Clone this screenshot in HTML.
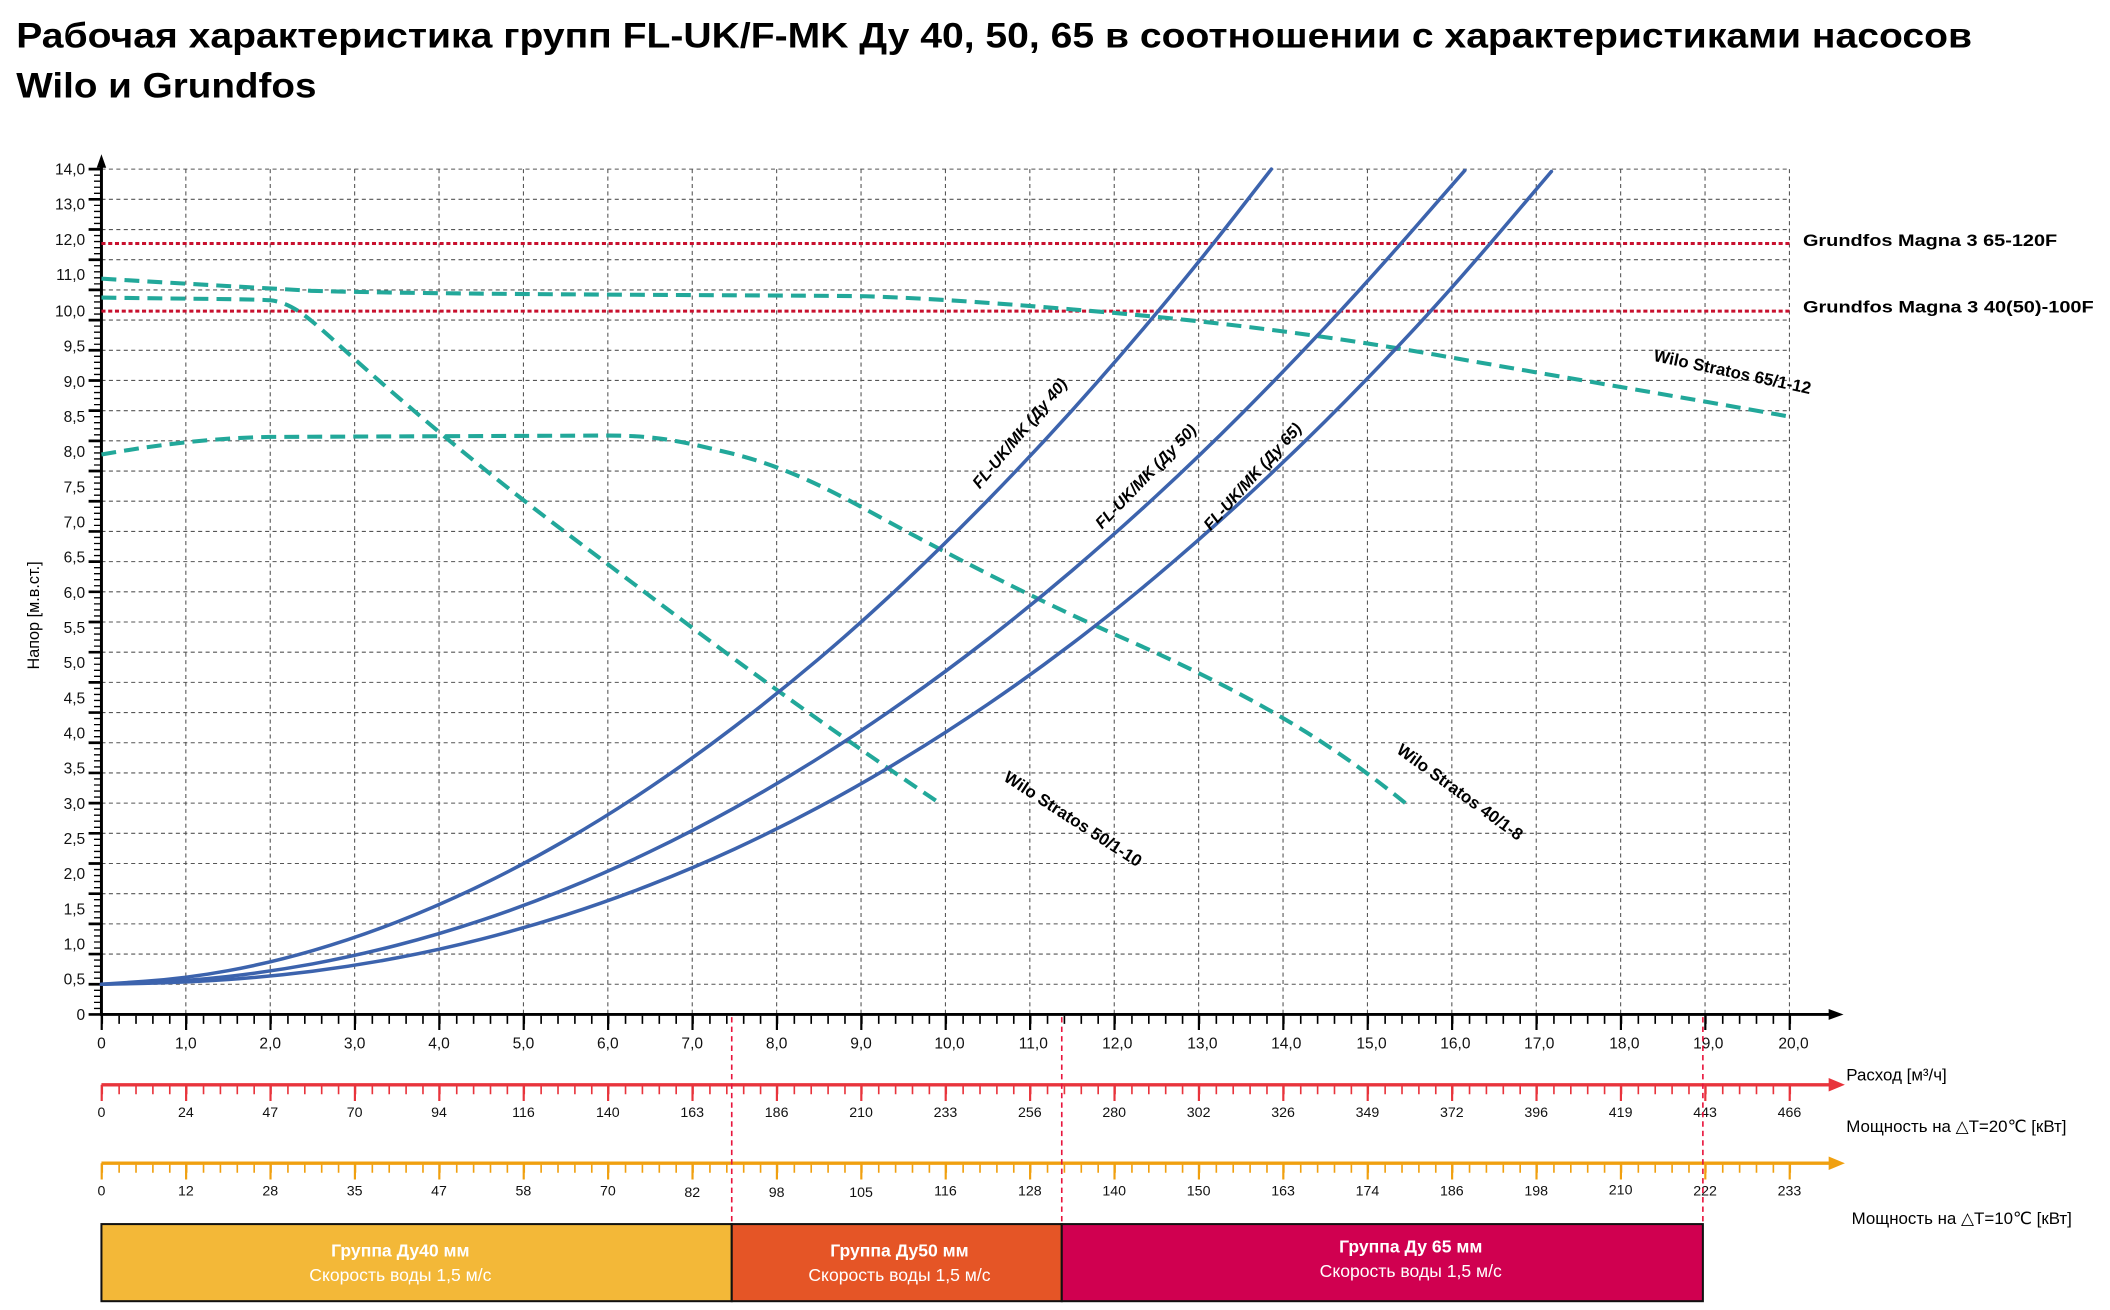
<!DOCTYPE html>
<html><head><meta charset="utf-8"><style>
html,body{margin:0;padding:0;background:#fff;}
svg{display:block;}
text{font-family:"Liberation Sans","DejaVu Sans",sans-serif;}
</style></head><body>
<svg width="2110" height="1310" viewBox="0 0 1560 968.5" xmlns="http://www.w3.org/2000/svg">
<rect width="1560" height="968.5" fill="#fff"/>
<text x="12" y="35" font-size="26" font-weight="bold" textLength="1446" lengthAdjust="spacingAndGlyphs">Рабочая характеристика групп FL-UK/F-MK Ду 40, 50, 65  в соотношении с характеристиками насосов</text>
<text x="12" y="72" font-size="26" font-weight="bold" textLength="222" lengthAdjust="spacingAndGlyphs">Wilo и Grundfos</text>

<!-- grid -->
<g stroke="#555" stroke-width="0.8" stroke-dasharray="3 2.5" fill="none">
<path d="M137.4 125V750M199.8 125V750M262.2 125V750M324.6 125V750M387 125V750M449.4 125V750M511.8 125V750M574.2 125V750M636.6 125V750M699 125V750M761.4 125V750M823.8 125V750M886.2 125V750M948.6 125V750M1011 125V750M1073.4 125V750M1135.8 125V750M1198.2 125V750M1260.6 125V750M1323 125V750"/>
<path d="M75 727.68H1323M75 705.36H1323M75 683.04H1323M75 660.72H1323M75 638.4H1323M75 616.08H1323M75 593.76H1323M75 571.44H1323M75 549.12H1323M75 526.8H1323M75 504.48H1323M75 482.16H1323M75 459.84H1323M75 437.52H1323M75 415.2H1323M75 392.88H1323M75 370.56H1323M75 348.24H1323M75 325.92H1323M75 303.6H1323M75 281.28H1323M75 258.96H1323M75 236.64H1323M75 214.32H1323M75 192H1323M75 169.68H1323M75 147.36H1323M75 125.04H1323"/>
</g>

<!-- y axis ticks -->
<line x1="72" y1="750.5" x2="72" y2="124" stroke="#000" stroke-width="5" stroke-dasharray="1 3.464"/>
<line x1="70" y1="751" x2="70" y2="124" stroke="#000" stroke-width="9" stroke-dasharray="2 20.32"/>
<!-- x axis ticks -->
<line x1="75" y1="754" x2="1330" y2="754" stroke="#000" stroke-width="6" stroke-dasharray="1.2 11.28"/>
<line x1="74.4" y1="756" x2="1330" y2="756" stroke="#000" stroke-width="11" stroke-dasharray="1.6 60.8"/>
<!-- axes -->
<line x1="75" y1="751" x2="75" y2="120" stroke="#000" stroke-width="2.2"/>
<path d="M75 114 L71.5 124 L78.5 124Z" fill="#000"/>
<line x1="74" y1="750" x2="1355" y2="750" stroke="#000" stroke-width="2.2"/>
<path d="M1363 750 L1352 746 L1352 754Z" fill="#000"/>

<!-- y labels -->
<g font-size="11.5" text-anchor="end" fill="#111">
<text x="63" y="129">14,0</text><text x="63" y="155">13,0</text><text x="63" y="181">12,0</text><text x="63" y="207">11,0</text><text x="63" y="234">10,0</text>
<text x="63" y="260">9,5</text><text x="63" y="286">9,0</text><text x="63" y="338">8,0</text><text x="63" y="312">8,5</text>
<text x="63" y="364">7,5</text><text x="63" y="390">7,0</text><text x="63" y="416">6,5</text><text x="63" y="442">6,0</text>
<text x="63" y="468">5,5</text><text x="63" y="494">5,0</text><text x="63" y="520">4,5</text><text x="63" y="546">4,0</text>
<text x="63" y="572">3,5</text><text x="63" y="598">3,0</text><text x="63" y="624">2,5</text><text x="63" y="650">2,0</text>
<text x="63" y="676">1,5</text><text x="63" y="702">1,0</text><text x="63" y="728">0,5</text><text x="63" y="754">0</text>
</g>
<text transform="translate(29 455) rotate(-90)" font-size="12" text-anchor="middle">Напор [м.в.ст.]</text>

<!-- x labels -->
<g font-size="11.5" text-anchor="middle" fill="#111">
<text x="75" y="775">0</text><text x="137.4" y="775">1,0</text><text x="199.8" y="775">2,0</text><text x="262.2" y="775">3,0</text><text x="324.6" y="775">4,0</text><text x="387" y="775">5,0</text><text x="449.4" y="775">6,0</text><text x="511.8" y="775">7,0</text><text x="574.2" y="775">8,0</text><text x="636.6" y="775">9,0</text><text x="702" y="775">10,0</text><text x="764" y="775">11,0</text><text x="826" y="775">12,0</text><text x="889" y="775">13,0</text><text x="951" y="775">14,0</text><text x="1014" y="775">15,0</text><text x="1076" y="775">16,0</text><text x="1138" y="775">17,0</text><text x="1201" y="775">18,0</text><text x="1263" y="775">19,0</text><text x="1326" y="775">20,0</text>
</g>

<!-- red dotted lines -->
<g stroke="#c8102e" stroke-width="2.2" stroke-dasharray="3 2">
<line x1="75" y1="180" x2="1323" y2="180"/>
<line x1="75" y1="230" x2="1323" y2="230"/>
</g>
<g font-size="12.5" font-weight="bold">
<text x="1333" y="182" textLength="188" lengthAdjust="spacingAndGlyphs">Grundfos Magna 3 65-120F</text>
<text x="1333" y="231" textLength="215" lengthAdjust="spacingAndGlyphs">Grundfos Magna 3 40(50)-100F</text>
</g>

<!-- teal dashed curves -->
<g stroke="#22a89a" stroke-width="3" stroke-dasharray="11 6" fill="none" stroke-linejoin="round">
<path d="M75 206 C140 210 180 212 230 215 C330 218 560 218 640 219 C700 221 760 226 820 231 C900 238 980 248 1060 262 C1150 278 1240 293 1323 308"/>
<path d="M75 220 C140 221 185 221 200 222 C215 224 225 232 245 250 C300 300 360 350 420 395 C500 455 570 510 695 594"/>
<path d="M75 336 C110 330 150 324 200 323 L450 322 C490 322 510 328 540 335 C580 345 610 360 650 382 C720 420 780 450 840 476 C920 512 980 545 1043 597"/>
</g>

<!-- blue curves -->
<g stroke="#3c63ad" stroke-width="2.6" fill="none" stroke-linejoin="round" stroke-linecap="round">
<path d="M75 727.7 L106.2 725.55 Q137.4 723.4 168.6 717.65 Q199.8 711.9 231 702.85 Q262.2 693.8 293.4 681.65 Q324.6 669.5 355.8 654.35 Q387 639.2 418.2 621.15 Q449.4 603.1 480.6 582.1 Q511.8 561.1 543 537.25 Q574.2 513.4 605.4 487.05 Q636.6 460.7 667.8 431.25 Q699 401.8 730.2 369.9 Q761.4 338 792.6 303.4 Q823.8 268.8 855 231.5 Q886.2 194.2 913.1 159.6 L940 125"/>
<path d="M75 727.7 L106.2 726.55 Q137.4 725.4 168.6 721.9 Q199.8 718.4 231 712.65 Q262.2 706.9 293.4 698.85 Q324.6 690.8 355.8 680.4 Q387 670 418.2 657.3 Q449.4 644.6 480.6 629.6 Q511.8 614.6 543 597.3 Q574.2 580 605.4 560.35 Q636.6 540.7 667.8 518.8 Q699 496.9 730.2 472.65 Q761.4 448.4 792.6 421.85 Q823.8 395.3 855 366.5 Q886.2 337.7 917.4 306.5 Q948.6 275.3 979.8 241.9 Q1011 208.5 1047 167.25 L1083 126"/>
<path d="M75 727.7 L106.2 727.05 Q137.4 726.4 168.6 724.2 Q199.8 722 231 718.05 Q262.2 714.1 293.4 708.2 Q324.6 702.3 355.8 694.35 Q387 686.4 418.2 676.4 Q449.4 666.4 480.6 654.25 Q511.8 642.1 543 627.75 Q574.2 613.4 605.4 596.7 Q636.6 580 667.8 561 Q699 542 730.2 520.8 Q761.4 499.6 792.6 475.9 Q823.8 452.2 855 425.9 Q886.2 399.6 917.4 371 Q948.6 342.4 979.8 311.4 Q1011 280.4 1042.2 246.9 Q1073.4 213.4 1110.2 170.1 L1147 126.8"/>
</g>

<!-- curve labels -->
<g font-size="12" font-weight="bold" font-style="italic" text-anchor="middle">
<text transform="translate(757 323) rotate(-50)">FL-UK/MK (Ду 40)</text>
<text transform="translate(850 355) rotate(-46)">FL-UK/MK (Ду 50)</text>
<text transform="translate(929 355) rotate(-48)">FL-UK/MK (Ду 65)</text>
</g>
<g font-size="12.5" font-weight="bold" text-anchor="middle">
<text transform="translate(1280 279) rotate(12)">Wilo Stratos  65/1-12</text>
<text transform="translate(791 609) rotate(33)">Wilo Stratos 50/1-10</text>
<text transform="translate(1077 589) rotate(36)">Wilo Stratos 40/1-8</text>
</g>

<!-- lower red axis -->
<line x1="75" y1="802" x2="1355" y2="802" stroke="#e8343c" stroke-width="2.5"/>
<path d="M1364 802 L1352 797 L1352 807Z" fill="#e8343c"/>
<line x1="75" y1="806" x2="1330" y2="806" stroke="#e8343c" stroke-width="6" stroke-dasharray="1.2 11.28"/>
<line x1="74.4" y1="808" x2="1330" y2="808" stroke="#e8343c" stroke-width="12" stroke-dasharray="1.6 60.8"/>
<g font-size="10.5" text-anchor="middle" fill="#111">
<text x="75" y="826">0</text><text x="137.4" y="826">24</text><text x="199.8" y="826">47</text><text x="262.2" y="826">70</text><text x="324.6" y="826">94</text><text x="387" y="826">116</text><text x="449.4" y="826">140</text><text x="511.8" y="826">163</text><text x="574.2" y="826">186</text><text x="636.6" y="826">210</text><text x="699" y="826">233</text><text x="761.4" y="826">256</text><text x="823.8" y="826">280</text><text x="886.2" y="826">302</text><text x="948.6" y="826">326</text><text x="1011" y="826">349</text><text x="1073.4" y="826">372</text><text x="1135.8" y="826">396</text><text x="1198.2" y="826">419</text><text x="1260.6" y="826">443</text><text x="1323" y="826">466</text>
</g>
<text x="1365" y="799" font-size="12.5">Расход [м³/ч]</text>
<text x="1365" y="837" font-size="12.5">Мощность на △T=20℃ [кВт]</text>

<!-- lower orange axis -->
<line x1="75" y1="860" x2="1355" y2="860" stroke="#f0a010" stroke-width="2.5"/>
<path d="M1364 860 L1352 855 L1352 865Z" fill="#f0a010"/>
<line x1="75" y1="864" x2="1330" y2="864" stroke="#f0a010" stroke-width="6" stroke-dasharray="1.2 11.28"/>
<line x1="74.4" y1="866" x2="1330" y2="866" stroke="#f0a010" stroke-width="12" stroke-dasharray="1.6 60.8"/>
<g font-size="10.5" text-anchor="middle" fill="#111">
<text x="75" y="884">0</text><text x="137.4" y="884">12</text><text x="199.8" y="884">28</text><text x="262.2" y="884">35</text><text x="324.6" y="884">47</text><text x="387" y="884">58</text><text x="449.4" y="884">70</text><text x="511.8" y="885">82</text><text x="574.2" y="885">98</text><text x="636.6" y="885">105</text><text x="699" y="884">116</text><text x="761.4" y="884">128</text><text x="823.8" y="884">140</text><text x="886.2" y="884">150</text><text x="948.6" y="884">163</text><text x="1011" y="884">174</text><text x="1073.4" y="884">186</text><text x="1135.8" y="884">198</text><text x="1198.2" y="883">210</text><text x="1260.6" y="884">222</text><text x="1323" y="884">233</text>
</g>
<text x="1369" y="905" font-size="12.5">Мощность на △T=10℃ [кВт]</text>

<!-- vertical red dashed separators -->
<g stroke="#e8143c" stroke-width="1.2" stroke-dasharray="4 3">
<line x1="541" y1="752" x2="541" y2="905"/>
<line x1="785" y1="752" x2="785" y2="905"/>
<line x1="1259" y1="752" x2="1259" y2="905"/>
</g>

<!-- group boxes -->
<rect x="75" y="905" width="466" height="57" fill="#f3b838" stroke="#111" stroke-width="1.5"/>
<rect x="541" y="905" width="244" height="57" fill="#e55526" stroke="#111" stroke-width="1.5"/>
<rect x="785" y="905" width="474" height="57" fill="#d00050" stroke="#111" stroke-width="1.5"/>
<g fill="#fff" font-size="13" text-anchor="middle">
<text x="296" y="929" font-weight="bold">Группа Ду40 мм</text>
<text x="296" y="947">Скорость воды 1,5 м/с</text>
<text x="665" y="929" font-weight="bold">Группа Ду50 мм</text>
<text x="665" y="947">Скорость воды 1,5 м/с</text>
<text x="1043" y="926" font-weight="bold">Группа Ду 65 мм</text>
<text x="1043" y="944">Скорость воды 1,5 м/с</text>
</g>
</svg>
</body></html>
